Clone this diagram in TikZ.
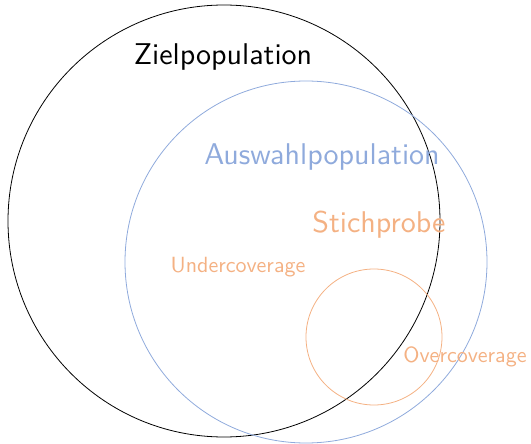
\documentclass[tikz,border=0pt]{standalone}
\usepackage{xcolor}
\usepackage{tikz}
\definecolor{auswahl}{HTML}{8FAADC}
\definecolor{stichprobe}{HTML}{F4B183}
\tikzset{
  % node options
  label/.style={font=\sffamily\fontsize{10}{12}\selectfont,scale=3},
  labelAuswahl/.style={label,text=auswahl},
  labelStich/.style={label,text=stichprobe},
  coverage/.style={font=\sffamily\fontsize{10}{12}\selectfont,scale=2.2,text=stichprobe},
  % path options
  population/.style={draw,line width=0.8pt},
}
\begin{document}
\begin{tikzpicture}[x=1pt,y=-1pt]
    \useasboundingbox (0,0) rectangle (531,444);
    \draw[population] (224,221) circle (216);
    \draw[population,auswahl] (306,262) circle (181);
    \draw[population,stichprobe] (374,337) circle (68);
    \node[label] (ziel) at (223,57) {Zielpopulation};
    \node[labelAuswahl] (auswahl) at (322,157) {Auswahlpopulation};
    \node[labelStich] (stichprobe) at (379,225) {Stichprobe};
    \node[coverage] (under) at (238,267) {Undercoverage};
    \node[coverage] (over) at (465,357) {Overcoverage};
  \end{tikzpicture}
\end{document}
